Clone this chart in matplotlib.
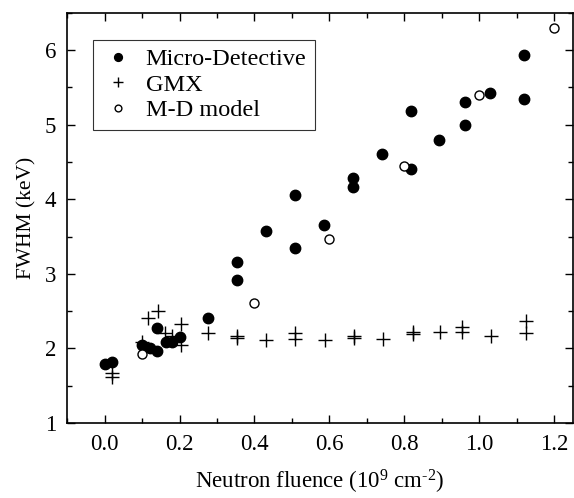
import matplotlib
matplotlib.use("Agg")
import matplotlib.pyplot as plt
from matplotlib.ticker import MultipleLocator

plt.rcParams['font.family'] = ['Liberation Serif', 'DejaVu Serif']
plt.rcParams['mathtext.fontset'] = 'custom'
plt.rcParams['mathtext.rm'] = 'Liberation Serif'
plt.rcParams['mathtext.it'] = 'Liberation Serif'

md_x = [0.0, 0.02, 0.10, 0.12, 0.14, 0.14, 0.165, 0.18, 0.20, 0.275,
        0.353, 0.353, 0.431, 0.509, 0.509, 0.586, 0.663, 0.663, 0.74,
        0.818, 0.818, 0.894, 0.961, 0.961, 1.03, 1.12, 1.12]
md_y = [1.79, 1.81, 2.05, 2.01, 1.96, 2.27, 2.08, 2.09, 2.15, 2.40,
        3.16, 2.92, 3.57, 4.06, 3.34, 3.65, 4.28, 4.16, 4.61,
        4.40, 5.19, 4.79, 5.31, 5.00, 5.42, 5.94, 5.34]

gmx_x = [0.02, 0.02, 0.10, 0.116, 0.142, 0.162, 0.18, 0.203, 0.203, 0.276,
         0.353, 0.353, 0.431, 0.509, 0.509, 0.587, 0.665, 0.665, 0.742,
         0.822, 0.822, 0.895, 0.955, 0.955, 1.031, 1.124, 1.124]
gmx_y = [1.67, 1.62, 2.08, 2.40, 2.50, 2.21, 2.17, 2.33, 2.04, 2.20,
         2.16, 2.14, 2.11, 2.21, 2.12, 2.11, 2.16, 2.14, 2.13,
         2.22, 2.19, 2.22, 2.28, 2.22, 2.17, 2.37, 2.21]

model_x = [0.1, 0.4, 0.6, 0.8, 1.0, 1.2]
model_y = [1.92, 2.61, 3.46, 4.45, 5.40, 6.30]

fig = plt.figure(figsize=(5.74, 4.98), dpi=100)
ax = fig.add_axes([0.117, 0.151, 0.881, 0.823])

ax.plot(md_x, md_y, 'o', color='black', markersize=7.5, linestyle='none',
        label='Micro-Detective')
ax.plot(gmx_x, gmx_y, '+', color='black', markersize=10.5, markeredgewidth=1.0,
        linestyle='none', label='GMX')
ax.plot(model_x, model_y, 'o', markerfacecolor='white', markeredgecolor='black',
        markersize=6.5, markeredgewidth=1.0, linestyle='none', label='M-D model')

ax.set_xlim(-0.1, 1.25)
ax.set_ylim(1, 6.5)
ax.xaxis.set_minor_locator(MultipleLocator(0.1))
ax.yaxis.set_minor_locator(MultipleLocator(0.5))
ax.set_xticks([0.0, 0.2, 0.4, 0.6, 0.8, 1.0, 1.2])
ax.set_xticklabels(['0.0', '0.2', '0.4', '0.6', '0.8', '1.0', '1.2'])
ax.set_yticks([1, 2, 3, 4, 5, 6])
ax.set_yticklabels(['1', '2', '3', '4', '5', '6'])

ax.tick_params(which='both', direction='in', top=True, right=True,
               labelsize=16.5, width=1.0)
ax.tick_params(which='major', length=6)
ax.tick_params(which='minor', length=3.5)
ax.tick_params(axis='x', pad=8)
ax.tick_params(axis='y', pad=8)
for s in ax.spines.values():
    s.set_linewidth(1.2)

ax.set_xlabel(r'Neutron fluence (10$^{9}$ cm$^{\text{-}2}$)', fontsize=16.5, labelpad=9)
ax.set_ylabel('FWHM (keV)', fontsize=15.5, labelpad=6)

leg = ax.legend(loc='upper left', bbox_to_anchor=(0.052, 0.935), fontsize=17.5,
                frameon=True, fancybox=False, edgecolor='black',
                handletextpad=0.5, borderpad=0.35, labelspacing=0.15,
                handlelength=1.3, markerscale=0.75, borderaxespad=0)
leg.get_frame().set_linewidth(0.8)

fig.savefig('out.png', dpi=100)
